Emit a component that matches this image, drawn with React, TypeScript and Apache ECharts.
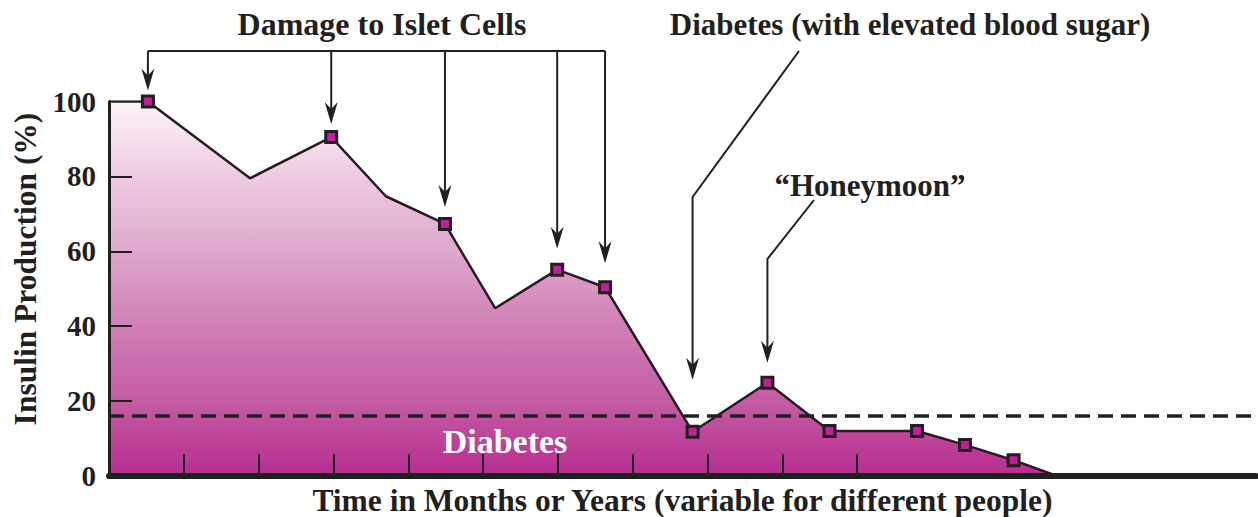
import { useEffect, useRef } from "react";
import * as echarts from "echarts";

// Time (in tick intervals) and insulin production (%)
const times = [0, 0.52, 1.885, 2.97, 3.7, 4.49, 5.16, 5.99, 6.63, 7.8, 8.8, 9.63, 10.8, 11.44, 12.09, 12.67];
const insulin = [100, 100, 79.5, 90.5, 74.7, 67.3, 44.8, 55.1, 50.4, 11.8, 24.9, 12, 12, 8.3, 4.2, 0];
const markerShown = [false, true, false, true, false, true, false, true, true, true, true, true, true, true, true, false];
const diabetesThreshold = 16;
const yTickValues = [20, 40, 60, 80];
const xTickValues = [1, 2, 3, 4, 5, 6, 7, 8, 9, 10];
const damageTargets = [1, 3, 5, 7, 8];
const damageGaps = [11, 13, 17, 21, 24];
const diabetesTarget = 9;
const honeymoonTarget = 10;

const INK = "#231f20";
const FONT = '"Liberation Serif", "DejaVu Serif", serif';

function arrowHead(x: number, tipY: number) {
  return {
    type: "polygon",
    shape: {
      points: [
        [x, tipY],
        [x - 6.5, tipY - 22],
        [x, tipY - 15],
        [x + 6.5, tipY - 22],
      ],
    },
    style: { fill: INK },
    z: 10,
  };
}

export default function App() {
  const ref = useRef<HTMLDivElement>(null);
  useEffect(() => {
    if (!ref.current) return;
    const chart = echarts.init(ref.current, null, { renderer: "svg" });
    chart.setOption({
      animation: false,
      grid: { left: 109, right: 2, top: 101.5, bottom: 41, containLabel: false, outerBoundsMode: "none" },
      xAxis: {
        type: "value",
        min: 0,
        max: 15.33,
        z: 5,
        name: "Time in Months or Years (variable for different people)",
        nameLocation: "middle",
        nameGap: 8,
        nameTextStyle: { fontFamily: FONT, fontWeight: "bold", fontSize: 31.5, color: INK },
        axisLine: { show: true, lineStyle: { color: INK, width: 6 } },
        axisTick: { show: true, inside: true, length: 22, customValues: xTickValues, lineStyle: { color: INK, width: 2 } },
        axisLabel: { show: false },
        splitLine: { show: false },
      },
      yAxis: {
        type: "value",
        min: 0,
        max: 100,
        interval: 20,
        z: 5,
        axisLine: { show: true, lineStyle: { color: INK, width: 3 } },
        axisTick: { show: true, inside: true, length: 23, customValues: yTickValues, lineStyle: { color: INK, width: 2 } },
        axisLabel: { show: true, margin: 13, fontFamily: FONT, fontWeight: "bold", fontSize: 29, color: INK },
        splitLine: { show: false },
      },
      series: [
        {
          type: "line",
          data: times.map((t, i) => ({ value: [t, insulin[i]], symbol: markerShown[i] ? "rect" : "none" })),
          symbolSize: 11,
          showAllSymbol: true,
          itemStyle: { color: "#bf1f98", borderColor: INK, borderWidth: 3 },
          lineStyle: { color: INK, width: 2.5 },
          areaStyle: {
            opacity: 1,
            color: new echarts.graphic.LinearGradient(0, 0, 0, 1, [
              { offset: 0, color: "#fbf4f9" },
              { offset: 0.2, color: "#edcbe2" },
              { offset: 0.4, color: "#dfa8cd" },
              { offset: 0.6, color: "#d07fb6" },
              { offset: 0.8, color: "#c35ca3" },
              { offset: 1, color: "#b82d8f" },
            ]),
          },
          markLine: {
            silent: true,
            symbol: "none",
            label: { show: false },
            lineStyle: { color: INK, type: [15, 8], width: 3.5 },
            data: [{ yAxis: diabetesThreshold }],
          },
        },
      ],
    });

    const px = (i: number) => chart.convertToPixel({ gridIndex: 0 }, [times[i], insulin[i]]) as number[];
    const g: any[] = [];
    const lineStyle = { stroke: INK, lineWidth: 2, fill: "none" };

    // Y axis title
    g.push({
      type: "text", x: 25, y: 269, rotation: Math.PI / 2, z: 10,
      style: { text: "Insulin Production (%)", font: `bold 31.5px ${FONT}`, fill: INK, textAlign: "center", textVerticalAlign: "middle" },
    });

    // Damage to Islet Cells
    const dPts = damageTargets.map(px);
    const barY = 51;
    g.push({ type: "line", shape: { x1: dPts[0][0], y1: barY, x2: dPts[dPts.length - 1][0], y2: barY }, style: lineStyle, z: 10 });
    dPts.forEach((p, k) => {
      const tipY = p[1] - damageGaps[k];
      g.push({ type: "line", shape: { x1: p[0], y1: barY, x2: p[0], y2: tipY - 12 }, style: lineStyle, z: 10 });
      g.push(arrowHead(p[0], tipY));
    });
    g.push({
      type: "text", x: 382, y: 24, z: 10,
      style: { text: "Damage to Islet Cells", font: `bold 32px ${FONT}`, fill: INK, textAlign: "center", textVerticalAlign: "middle" },
    });

    // Diabetes (with elevated blood sugar)
    const dp = px(diabetesTarget);
    const dTip = dp[1] - 52;
    g.push({ type: "polyline", shape: { points: [[799, 51], [dp[0], 197], [dp[0], dTip - 12]] }, style: lineStyle, z: 10 });
    g.push(arrowHead(dp[0], dTip));
    g.push({
      type: "text", x: 910, y: 24, z: 10,
      style: { text: "Diabetes (with elevated blood sugar)", font: `bold 31px ${FONT}`, fill: INK, textAlign: "center", textVerticalAlign: "middle" },
    });

    // Honeymoon
    const hp = px(honeymoonTarget);
    const hTip = hp[1] - 20;
    g.push({ type: "polyline", shape: { points: [[814, 200], [hp[0], 259], [hp[0], hTip - 12]] }, style: lineStyle, z: 10 });
    g.push(arrowHead(hp[0], hTip));
    g.push({
      type: "text", x: 870, y: 185, z: 10,
      style: { text: "\u201CHoneymoon\u201D", font: `bold 31px ${FONT}`, fill: INK, textAlign: "center", textVerticalAlign: "middle" },
    });

    // Diabetes zone label
    g.push({
      type: "text", x: 505, y: 441, z: 10,
      style: { text: "Diabetes", font: `bold 34px ${FONT}`, fill: "#ffffff", textAlign: "center", textVerticalAlign: "middle" },
    });

    chart.setOption({ graphic: g });
    return () => chart.dispose();
  }, []);
  return <div ref={ref} style={{ position: "fixed", left: 0, top: 0, width: 1258, height: 517, background: "#ffffff" }} />;
}
